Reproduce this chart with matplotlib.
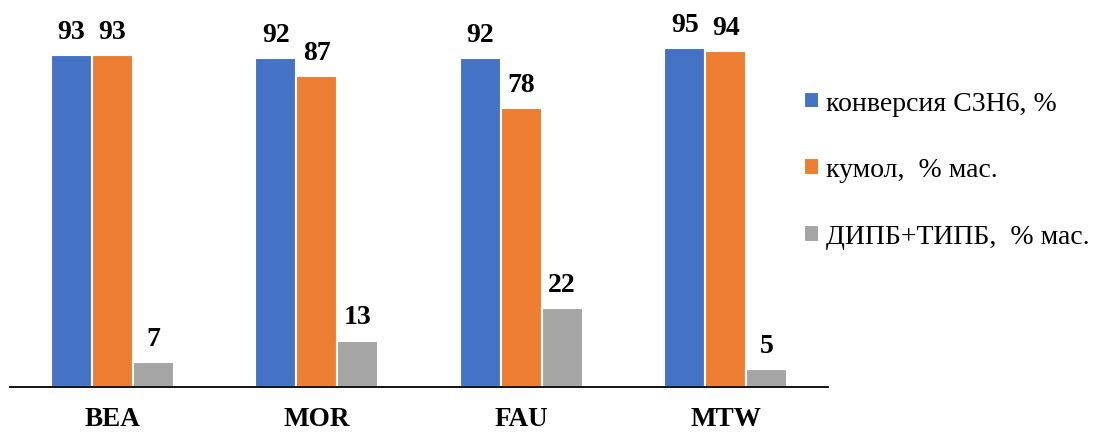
import matplotlib.pyplot as plt
import numpy as np

plt.rcParams['font.family'] = ['Liberation Serif', 'DejaVu Serif']

catalysts = ['BEA', 'MOR', 'FAU', 'MTW']
conversion = [93, 92, 92, 95]
cumene = [93, 87, 78, 94]
dipb_tipb = [7, 13, 22, 5]

series = [
    (conversion, 'конверсия С3Н6, %', '#4472C4'),
    (cumene, 'кумол,  % мас.', '#ED7D31'),
    (dipb_tipb, 'ДИПБ+ТИПБ,  % мас.', '#A5A5A5'),
]

fig = plt.figure(figsize=(10.94, 4.35), dpi=100)
ax = fig.add_axes([0.009, 0.108, 0.748, 0.821])

x = np.arange(len(catalysts))
width = 0.2
handles = []
for i, (vals, label, color) in enumerate(series):
    bars = ax.bar(x + (i - 1) * width, vals, width, color=color,
                  edgecolor='white', linewidth=1.5, label=label)
    handles.append(bars)
    # value label above each bar
    for b, v in zip(bars, vals):
        ax.annotate(str(v), (b.get_x() + b.get_width() / 2, v),
                    xytext=(0, 8), textcoords='offset points',
                    ha='center', va='bottom', fontsize=20, fontweight='bold')

ax.set_xlim(-0.5, len(catalysts) - 0.5)
ax.set_ylim(0, 100)
ax.set_xticks(x)
ax.set_xticklabels(catalysts, fontsize=19.5, fontweight='bold')
ax.tick_params(axis='x', length=0, pad=14)
ax.set_yticks([])
for side in ['top', 'right', 'left']:
    ax.spines[side].set_visible(False)
ax.spines['bottom'].set_linewidth(1.3)

fig.legend(handles=handles, loc='center left', bbox_to_anchor=(0.712, 0.607),
           frameon=False, fontsize=20, handlelength=0.55, handleheight=0.55,
           handletextpad=0.25, labelspacing=1.5)

fig.savefig('out.png', dpi=100)
